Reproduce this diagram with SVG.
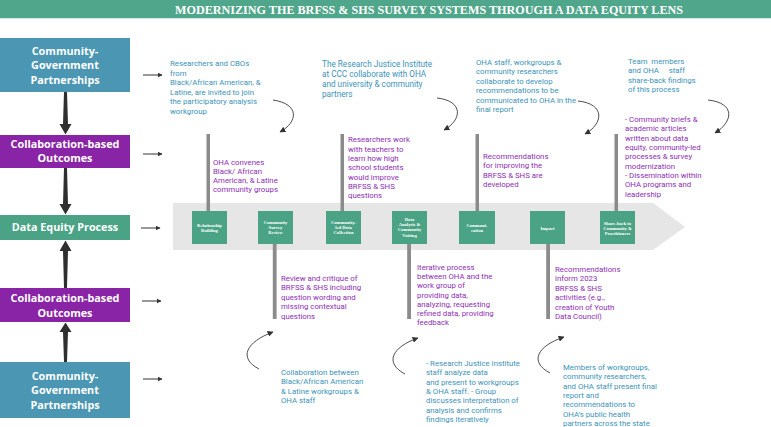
<svg xmlns="http://www.w3.org/2000/svg" width="771" height="427" viewBox="0 0 771 427">
<defs>
<style>
.bx{font-family:"Open Sans","DejaVu Sans",sans-serif;font-weight:700;font-size:10.8px;fill:#fff;text-anchor:middle}
.t{font-family:Roboto,"Liberation Sans",sans-serif;font-size:7.8px}
.tb{fill:#3b93b9}
.pu{fill:#8e2db3}
.sq{fill:#4aa385}
.sl{font-family:"Liberation Serif",serif;font-weight:700;font-size:4.6px;fill:#fff;text-anchor:middle}
.bar{fill:#8b8b8b}
.curve{fill:none;stroke:#3a3a3a;stroke-width:0.9}
.harr{stroke:#333;stroke-width:1}
.varr{fill:#2f2f2f}
</style>
<marker id="ah" viewBox="0 0 10 10" refX="9" refY="5" markerWidth="6" markerHeight="6" markerUnits="userSpaceOnUse" orient="auto">
<path d="M0,0 L10,5 L0,10 z" fill="#333"/>
</marker>
<marker id="ah2" viewBox="0 0 10 10" refX="9" refY="5" markerWidth="5" markerHeight="5" markerUnits="userSpaceOnUse" orient="auto">
<path d="M0,0 L10,5 L0,10 z" fill="#333"/>
</marker>
</defs>
<rect width="771" height="427" fill="#fff"/>

<g id="title">
<rect x="0" y="0" width="771" height="18" fill="#4fa68a"/>
<rect x="0" y="18" width="771" height="1.2" fill="#d6e9e2"/>
<text x="429" y="14" font-family="Liberation Serif,serif" font-weight="700" font-size="11.5" fill="#fff" text-anchor="middle" textLength="508" lengthAdjust="spacingAndGlyphs">MODERNIZING THE BRFSS &amp; SHS SURVEY SYSTEMS THROUGH A DATA EQUITY LENS</text>
</g>

<g id="band">
<polygon points="173,203 653,203 685,227 653,250 173,250" fill="#e6e6e6"/>
</g>

<g id="bars">
<rect class="bar" x="206.5" y="134" width="3.5" height="77"/>
<rect class="bar" x="340.5" y="134" width="3.5" height="77"/>
<rect class="bar" x="475.5" y="134" width="3.5" height="77"/>
<rect class="bar" x="614.5" y="134" width="3.5" height="77"/>
<rect class="bar" x="272.8" y="244" width="3.8" height="75"/>
<rect class="bar" x="407.2" y="244" width="3.8" height="75"/>
<rect class="bar" x="546.2" y="244" width="3.8" height="75"/>
</g>

<g id="box-cgp-top">
<rect x="0" y="38" width="130" height="54" fill="#4a96b3"/>
<text class="bx" x="65" y="54.5">Community-</text>
<text class="bx" x="65" y="68.7">Government</text>
<text class="bx" x="65" y="83.5">Partnerships</text>
</g>
<g id="box-cbo-top">
<rect x="0" y="135" width="130" height="33" fill="#8a24a7"/>
<text class="bx" x="65" y="147.5">Collaboration-based</text>
<text class="bx" x="65" y="161.7">Outcomes</text>
</g>
<g id="box-dep">
<rect x="0" y="215" width="130" height="25" fill="#4aa385"/>
<text class="bx" x="65" y="231">Data Equity Process</text>
</g>
<g id="box-cbo-bottom">
<rect x="0" y="288" width="130" height="34" fill="#8a24a7"/>
<text class="bx" x="65" y="301.5">Collaboration-based</text>
<text class="bx" x="65" y="316.5">Outcomes</text>
</g>
<g id="box-cgp-bottom">
<rect x="0" y="362" width="130" height="56" fill="#4a96b3"/>
<text class="bx" x="65" y="379.5">Community-</text>
<text class="bx" x="65" y="393.7">Government</text>
<text class="bx" x="65" y="408.5">Partnerships</text>
</g>

<g id="step-relationship">
<rect class="sq" x="192" y="211" width="35" height="33"/>
<text class="sl" x="209.5" y="226.6">Relationship</text>
<text class="sl" x="209.5" y="231.6">Building</text>
</g>
<g id="step-survey-review">
<rect class="sq" x="258" y="211" width="35" height="33"/>
<text class="sl" x="275.5" y="224">Community</text>
<text class="sl" x="275.5" y="229">Survey</text>
<text class="sl" x="275.5" y="234.2">Review</text>
</g>
<g id="step-data-collection">
<rect class="sq" x="326" y="211" width="35" height="33"/>
<text class="sl" x="343.5" y="224">Community-</text>
<text class="sl" x="343.5" y="229">led Data</text>
<text class="sl" x="343.5" y="234.2">Collection</text>
</g>
<g id="step-data-analysis">
<rect class="sq" x="392" y="211" width="35" height="33"/>
<text class="sl" x="409.5" y="220.6">Data</text>
<text class="sl" x="409.5" y="226">Analysis &amp;</text>
<text class="sl" x="409.5" y="231.4">Community</text>
<text class="sl" x="409.5" y="236.8">Votting</text>
</g>
<g id="step-communication">
<rect class="sq" x="459" y="211" width="36" height="33"/>
<text class="sl" x="477" y="226.6">Communi-</text>
<text class="sl" x="477" y="231.6">cation</text>
</g>
<g id="step-impact">
<rect class="sq" x="530" y="211" width="35" height="33"/>
<text class="sl" x="547.5" y="229.6">Impact</text>
</g>
<g id="step-shareback">
<rect class="sq" x="600" y="211" width="35" height="33"/>
<text class="sl" x="617.5" y="224.6">Share-back to</text>
<text class="sl" x="617.5" y="229.6">Community &amp;</text>
<text class="sl" x="617.5" y="234.6">Practitioners</text>
</g>

<g id="note-t1" class="t tb">
<text x="170" y="66"><tspan x="170">Researchers and CBOs</tspan><tspan x="170" dy="9.5">from</tspan><tspan x="170" dy="9.5">Black/African American, &amp;</tspan><tspan x="170" dy="9.5">Latine, are invited to join</tspan><tspan x="170" dy="9.5">the participatory analysis</tspan><tspan x="170" dy="9.5">workgroup</tspan></text>
</g>
<g id="note-t2" class="t tb">
<text x="322" y="67" font-size="8.2"><tspan x="322">The Research Justice Institute</tspan><tspan x="322" dy="10">at CCC collaborate with OHA</tspan><tspan x="322" dy="10">and university &amp; community</tspan><tspan x="322" dy="10">partners</tspan></text>
</g>
<g id="note-t3" class="t tb">
<text x="476" y="65"><tspan x="476">OHA staff, workgroups &amp;</tspan><tspan x="476" dy="9.4">community researchers</tspan><tspan x="476" dy="9.4">collaborate to develop</tspan><tspan x="476" dy="9.4">recommendations to be</tspan><tspan x="476" dy="9.4">communicated to OHA in the</tspan><tspan x="476" dy="9.4">final report</tspan></text>
</g>
<g id="note-t4" class="t tb">
<text x="628" y="64" xml:space="preserve" style="white-space:pre"><tspan x="628">Team  members</tspan><tspan x="628" dy="9.3">and OHA     staff</tspan><tspan x="628" dy="9.3">share-back findings</tspan><tspan x="628" dy="9.3">of this process</tspan></text>
</g>

<g id="note-p1" class="t pu">
<text x="213" y="165"><tspan x="213">OHA convenes</tspan><tspan x="213" dy="9">Black/ African</tspan><tspan x="213" dy="9">American, &amp; Latine</tspan><tspan x="213" dy="9">community groups</tspan></text>
</g>
<g id="note-p2" class="t pu">
<text x="348" y="142.3"><tspan x="348">Researchers work</tspan><tspan x="348" dy="9.3">with teachers to</tspan><tspan x="348" dy="9.3">learn how high</tspan><tspan x="348" dy="9.3">school students</tspan><tspan x="348" dy="9.3">would improve</tspan><tspan x="348" dy="9.3">BRFSS &amp; SHS</tspan><tspan x="348" dy="9.3">questions</tspan></text>
</g>
<g id="note-p3" class="t pu">
<text x="483" y="159"><tspan x="483">Recommendations</tspan><tspan x="483" dy="9.3">for improving the</tspan><tspan x="483" dy="9.3">BRFSS &amp; SHS are</tspan><tspan x="483" dy="9.3">developed</tspan></text>
</g>
<g id="note-p4" class="t pu">
<text x="625" y="122"><tspan x="625">- Community briefs &amp;</tspan><tspan x="625" dy="9.35">academic articles</tspan><tspan x="625" dy="9.35">written about data</tspan><tspan x="625" dy="9.35">equity, community-led</tspan><tspan x="625" dy="9.35">processes &amp; survey</tspan><tspan x="625" dy="9.35">modernization</tspan><tspan x="625" dy="9.35">- Dissemination within</tspan><tspan x="625" dy="9.35">OHA programs and</tspan><tspan x="625" dy="9.35">leadership</tspan></text>
</g>

<g id="note-p5" class="t pu">
<text x="281" y="281"><tspan x="281">Review and critique of</tspan><tspan x="281" dy="9.4">BRFSS &amp; SHS including</tspan><tspan x="281" dy="9.4">question wording and</tspan><tspan x="281" dy="9.4">missing contextual</tspan><tspan x="281" dy="9.4">questions</tspan></text>
</g>
<g id="note-p6" class="t pu">
<text x="417" y="270"><tspan x="417">Iterative process</tspan><tspan x="417" dy="9.2">between OHA and the</tspan><tspan x="417" dy="9.2">work group of</tspan><tspan x="417" dy="9.2">providing data,</tspan><tspan x="417" dy="9.2">analyzing, requesting</tspan><tspan x="417" dy="9.2">refined data, providing</tspan><tspan x="417" dy="9.2">feedback</tspan></text>
</g>
<g id="note-p7" class="t pu">
<text x="555" y="272"><tspan x="555">Recommendations</tspan><tspan x="555" dy="9.4">inform 2023</tspan><tspan x="555" dy="9.4">BRFSS &amp; SHS</tspan><tspan x="555" dy="9.4">activities (e.g.,</tspan><tspan x="555" dy="9.4">creation of Youth</tspan><tspan x="555" dy="9.4">Data Council)</tspan></text>
</g>

<g id="note-t5" class="t tb">
<text x="281" y="375"><tspan x="281">Collaboration between</tspan><tspan x="281" dy="9.4">Black/African American</tspan><tspan x="281" dy="9.4">&amp; Latine workgroups &amp;</tspan><tspan x="281" dy="9.4">OHA staff</tspan></text>
</g>
<g id="note-t6" class="t tb">
<text x="426" y="366"><tspan x="426">- Research Justice Institute</tspan><tspan x="426" dy="9.3">staff analyze data</tspan><tspan x="426" dy="9.3">and present to workgroups</tspan><tspan x="426" dy="9.3">&amp; OHA staff. - Group</tspan><tspan x="426" dy="9.3">discusses interpretation of</tspan><tspan x="426" dy="9.3">analysis and confirms</tspan><tspan x="426" dy="9.3">findings iteratively</tspan></text>
</g>
<g id="note-t7" class="t tb">
<text x="563" y="370"><tspan x="563">Members of workgroups,</tspan><tspan x="563" dy="9.35">community researchers,</tspan><tspan x="563" dy="9.35">and OHA staff present final</tspan><tspan x="563" dy="9.35">report and</tspan><tspan x="563" dy="9.35">recommendations to</tspan><tspan x="563" dy="9.35">OHA’s public health</tspan><tspan x="563" dy="9.35">partners across the state</tspan></text>
</g>

<g id="connectors">
<polygon class="varr" points="64,92 67,92 68,124 71.5,124 65.5,134.5 59.5,124 63,124"/>
<polygon class="varr" points="64,168 67,168 68,204 71.5,204 65.5,214.5 59.5,204 63,204"/>
<polygon class="varr" points="64,288 67,288 68,251 71.5,251 65.5,240.5 59.5,251 63,251"/>
<polygon class="varr" points="64,362 67,362 68,332 71.5,332 65.5,322.5 59.5,332 63,332"/>
<line class="harr" x1="143" y1="75" x2="162" y2="75" marker-end="url(#ah2)"/>
<line class="harr" x1="143" y1="154" x2="162" y2="154" marker-end="url(#ah2)"/>
<line class="harr" x1="141" y1="228" x2="160" y2="228" marker-end="url(#ah2)"/>
<line class="harr" x1="142" y1="301" x2="161" y2="301" marker-end="url(#ah2)"/>
<line class="harr" x1="143" y1="379" x2="162" y2="379" marker-end="url(#ah2)"/>
<path class="curve" d="M273,100 C300,104 298,122 280,132" marker-end="url(#ah)"/>
<path class="curve" d="M437,98 C464,101 462,120 444,130" marker-end="url(#ah)"/>
<path class="curve" d="M578,101 C606,104 603,124 585,134" marker-end="url(#ah)"/>
<path class="curve" d="M708,100 C736,103 733,122 715,133" marker-end="url(#ah)"/>
<path class="curve" d="M259,369 C238,358 246,342 273,332" marker-end="url(#ah)"/>
<path class="curve" d="M405,374 C384,363 392,347 418,338" marker-end="url(#ah)"/>
<path class="curve" d="M550,373 C529,362 537,346 564,337" marker-end="url(#ah)"/>
</g>
</svg>
